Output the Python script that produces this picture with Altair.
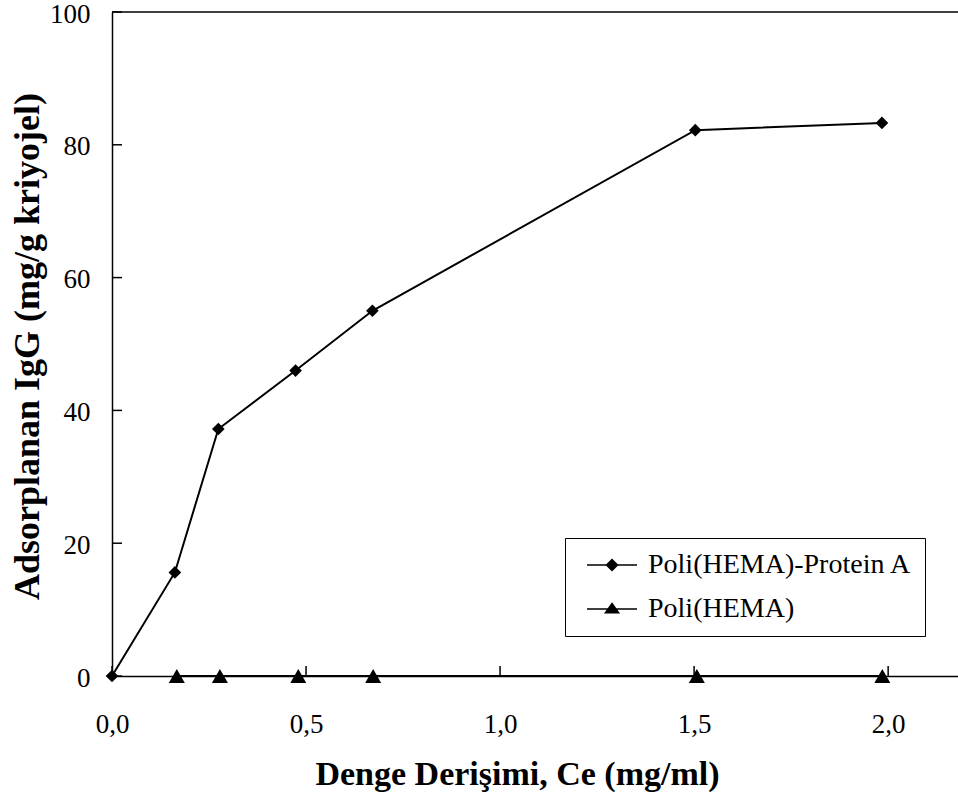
import altair as alt
import pandas as pd

# Series names (legend order)
series_names = ["Poli(HEMA)-Protein A", "Poli(HEMA)"]

# Poli(HEMA)-Protein A cryogel: equilibrium concentration (mg/ml) vs adsorbed IgG (mg/g)
ce_protein_a = [0.0, 0.162, 0.274, 0.473, 0.671, 1.503, 1.984]
q_protein_a = [0.0, 15.6, 37.2, 46.0, 55.0, 82.2, 83.3]

# Plain Poli(HEMA) cryogel: no IgG adsorption
ce_hema = [0.167, 0.278, 0.480, 0.673, 1.507, 1.985]
q_hema = [0.0, 0.0, 0.0, 0.0, 0.0, 0.0]

# Axis tick values
x_ticks = [0.0, 0.5, 1.0, 1.5, 2.0]
y_ticks = [0, 20, 40, 60, 80, 100]

X_MAX = 2.18
W, H = 846, 664
FONT = "Times New Roman, Liberation Serif, serif"
TICK_LEN = 10

df = pd.concat(
    [
        pd.DataFrame({"ce": ce_protein_a, "q": q_protein_a, "series": series_names[0]}),
        pd.DataFrame({"ce": ce_hema, "q": q_hema, "series": series_names[1]}),
    ],
    ignore_index=True,
)

x_scale = alt.Scale(domain=[0, X_MAX], nice=False, zero=False)
y_scale = alt.Scale(domain=[0, 100], nice=False)

x_axis = alt.Axis(
    values=x_ticks,
    labelExpr="replace(format(datum.value, '.1f'), '.', ',')",
    ticks=False, tickSize=0, grid=False,
    domainColor="black", domainWidth=1.5,
    labelFont=FONT, labelFontSize=27, labelFontWeight="normal", labelColor="black",
    labelPadding=56, labelBaseline="alphabetic", labelFlush=False,
    title="Denge Derişimi, Ce (mg/ml)",
    titleFont=FONT, titleFontSize=34, titleFontWeight="bold", titleColor="black",
    titleX=405, titleY=108, titleAlign="center", titleBaseline="alphabetic",
)
y_axis = alt.Axis(
    values=y_ticks, format="d",
    ticks=False, tickSize=0, grid=False,
    domainColor="black", domainWidth=1.5,
    labelFont=FONT, labelFontSize=27, labelFontWeight="normal", labelColor="black",
    labelPadding=22, labelOffset=2, labelFlush=False,
    title="Adsorplanan IgG (mg/g kriyojel)",
    titleFont=FONT, titleFontSize=36, titleFontWeight="bold", titleColor="black",
    titleX=-74, titleY=334, titleAlign="center", titleBaseline="alphabetic", titleAngle=270,
)

X = alt.X("ce:Q", scale=x_scale, axis=x_axis)
Y = alt.Y("q:Q", scale=y_scale, axis=y_axis)

base = alt.Chart(df)

lines = base.mark_line(color="black", strokeWidth=2).encode(
    x=X, y=Y, detail="series:N", order="ce:Q"
)

diamonds = base.transform_filter(alt.datum.series == series_names[0]).mark_point(
    shape="diamond", filled=True, color="black", size=160, opacity=1
).encode(x=X, y=Y)

triangles = base.transform_filter(alt.datum.series == series_names[1]).mark_point(
    shape="triangle-up", filled=True, color="black", size=256, opacity=1
).encode(x=X, y=Y)


# Legend symbols: a short line with the series marker in the middle.
# The marker is built from nested outlines so that a stroke-only symbol looks solid.
def diamond_key(cx=1.82, r=0.5, step=0.07):
    parts = ["M-0.45,0H4.09"]
    while r > 0.02:
        parts.append(f"M{cx:.3f},{-r:.3f}L{cx + r:.3f},0L{cx:.3f},{r:.3f}L{cx - r:.3f},0Z")
        r -= step
    return "".join(parts)


def triangle_key(cx=1.82, cy=0.067, top=-0.5, bottom=0.35, half=0.6, step=0.12):
    parts = ["M-0.45,0H4.09"]
    s = 1.0
    while s > 0.05:
        ty = cy + s * (top - cy)
        by = cy + s * (bottom - cy)
        hw = s * half
        parts.append(f"M{cx:.3f},{ty:.3f}L{cx + hw:.3f},{by:.3f}L{cx - hw:.3f},{by:.3f}Z")
        s -= step
    return "".join(parts)


legend_paths = [diamond_key(), triangle_key()]

legend_layer = base.mark_point(
    opacity=0, filled=False, color="black", strokeWidth=1.5
).encode(
    x=X, y=Y,
    shape=alt.Shape(
        "series:N",
        scale=alt.Scale(domain=series_names, range=legend_paths),
        legend=alt.Legend(
            title=None, orient="none", legendX=453, legendY=526, direction="vertical",
            strokeColor="black", fillColor="white", padding=13, cornerRadius=0,
            labelFont=FONT, labelFontSize=28, labelFontWeight="normal",
            labelColor="black", labelLimit=0,
            labelOffset=42, rowPadding=16,
            symbolSize=484, symbolStrokeColor="black",
            symbolStrokeWidth=1.5, symbolOpacity=1,
        ),
    ),
)

# Inward tick marks
x_tick_marks = alt.Chart(pd.DataFrame({"ce": x_ticks})).mark_rule(
    color="black", strokeWidth=1.5
).encode(x=X, y=alt.value(H), y2=alt.value(H - TICK_LEN))

y_tick_marks = alt.Chart(pd.DataFrame({"q": y_ticks})).mark_rule(
    color="black", strokeWidth=1.5
).encode(y=Y, x=alt.value(0), x2=alt.value(TICK_LEN))

# Top frame line
top_line = alt.Chart(pd.DataFrame({"q": [100]})).mark_rule(
    color="black", strokeWidth=1.5
).encode(y=Y, x=alt.value(0), x2=alt.value(W))

chart = alt.layer(
    top_line, x_tick_marks, y_tick_marks, lines, diamonds, triangles, legend_layer
).properties(
    width=W, height=H,
    padding={"left": 112, "top": 12, "right": 0, "bottom": 122},
    autosize=alt.AutoSizeParams(type="none"),
    background="white",
).configure_view(stroke=None)

chart.save("out.html", embed_options={"renderer": "svg", "actions": False})
